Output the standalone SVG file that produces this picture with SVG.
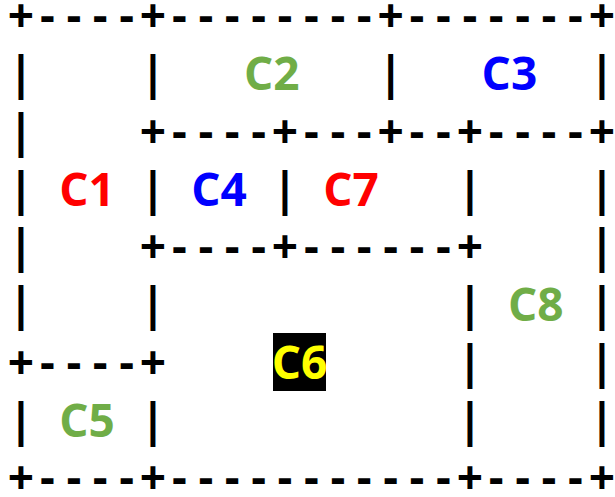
<svg xmlns="http://www.w3.org/2000/svg" width="615" height="497" viewBox="0 0 615 497">
  <style>
    text { font-family: "Open Sans", "Liberation Sans", sans-serif; font-weight: bold; font-size: 46px; text-anchor: middle; }
    .rule { fill: #000000; }
    .red { fill: #FF0000; }
    .blue { fill: #0000FF; }
    .green { fill: #70AD47; }
    .yellow { fill: #FFFF00; }
  </style>
  <rect width="615" height="497" fill="#FFFFFF"/>

  <!-- Character grid: 23 columns, 26.4px pitch, row baselines 57.75px apart -->
  <g id="borders" class="rule">
    <!-- horizontal runs -->
    <text x="21 47.4 73.8 100.2 126.6 153 179.4 205.8 232.2 258.6 285 311.4 337.8 364.2 390.6 417 443.4 469.8 496.2 522.6 549 575.4 601.8" y="32.3">+----+--------+-------+</text>
    <text x="153 179.4 205.8 232.2 258.6 285 311.4 337.8 364.2 390.6 417 443.4 469.8 496.2 522.6 549 575.4 601.8" y="147.8">+----+---+--+----+</text>
    <text x="153 179.4 205.8 232.2 258.6 285 311.4 337.8 364.2 390.6 417 443.4 469.8" y="263.3">+----+------+</text>
    <text x="21 47.4 73.8 100.2 126.6 153" y="378.8">+----+</text>
    <text x="21 47.4 73.8 100.2 126.6 153 179.4 205.8 232.2 258.6 285 311.4 337.8 364.2 390.6 417 443.4 469.8 496.2 522.6 549 575.4 601.8" y="494.3">+----+-----------+----+</text>
    <!-- vertical bars -->
    <text x="21" y="90">|</text><text x="153" y="90">|</text><text x="390.6" y="90">|</text><text x="601.8" y="90">|</text>
    <text x="21" y="147.8">|</text>
    <text x="21" y="205.5">|</text><text x="153" y="205.5">|</text><text x="285" y="205.5">|</text><text x="469.8" y="205.5">|</text><text x="601.8" y="205.5">|</text>
    <text x="21" y="263.3">|</text><text x="601.8" y="263.3">|</text>
    <text x="21" y="321">|</text><text x="153" y="321">|</text><text x="469.8" y="321">|</text><text x="601.8" y="321">|</text>
    <text x="469.8" y="378.8">|</text><text x="601.8" y="378.8">|</text>
    <text x="21" y="436.5">|</text><text x="153" y="436.5">|</text><text x="469.8" y="436.5">|</text><text x="601.8" y="436.5">|</text>
  </g>

  <!-- Cell labels -->
  <g id="C1"><text class="red" x="87" y="205.5">C1</text></g>
  <g id="C2"><text class="green" x="271.8" y="90">C2</text></g>
  <g id="C3"><text class="blue" x="509.4" y="90">C3</text></g>
  <g id="C4"><text class="blue" x="219" y="205.5">C4</text></g>
  <g id="C7"><text class="red" x="351" y="205.5">C7</text></g>
  <g id="C8"><text class="green" x="535.8" y="321">C8</text></g>
  <g id="C6">
    <rect x="273" y="333" width="53" height="58" fill="#000000"/>
    <text class="yellow" x="299.5" y="378.8">C6</text>
  </g>
  <g id="C5"><text class="green" x="87" y="436.5">C5</text></g>
</svg>
